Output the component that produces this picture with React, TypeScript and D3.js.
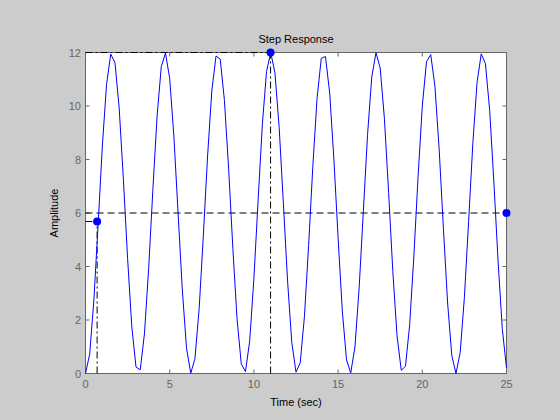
import React from "react";
import * as d3 from "d3";

const times: number[] = Array.from({ length: 101 }, (_, i) => i * 0.25);
const amplitude: number[] = [
  0, 0.73, 2.76, 5.58, 8.5, 10.81, 11.94, 11.62, 9.92, 7.26,
  4.3, 1.75, 0.24, 0.14, 1.48, 3.92, 6.87, 9.61, 11.47, 11.98,
  11.03, 8.85, 5.97, 3.12, 0.94, 0.01, 0.56, 2.43, 5.18, 8.13,
  10.56, 11.87, 11.75, 10.21, 7.65, 4.68, 2.04, 0.36, 0.07, 1.22,
  3.55, 6.48, 9.29, 11.29, 12.0, 11.24, 9.2, 6.37, 3.45, 1.16,
  0.05, 0.4, 2.12, 4.79, 7.75, 10.28, 11.78, 11.85, 10.49, 8.02,
  5.07, 2.34, 0.51, 0.02, 0.99, 3.2, 6.08, 8.94, 11.09, 11.99,
  11.42, 9.53, 6.77, 3.81, 1.41, 0.12, 0.27, 1.82, 4.4, 7.37,
  10.0, 11.66, 11.92, 10.74, 8.4, 5.47, 2.67, 0.68, 0.0, 0.79,
  2.85, 5.68, 8.59, 10.87, 11.95, 11.58, 9.84, 7.16, 4.2, 1.67,
  0.21,
];
const xTicks: number[] = [0, 5, 10, 15, 20, 25];
const yTicks: number[] = [0, 2, 4, 6, 8, 10, 12];

// Characteristic points
const riseTime = 0.69;
const riseValue = 5.68;
const peakTime = 10.99;
const peakValue = 12;
const steadyValue = 6;
const finalTime = 25;

export default function App() {
  const x = d3.scaleLinear().domain([0, 25]).range([85.5, 506.5]);
  const y = d3.scaleLinear().domain([0, 12]).range([373.5, 52.5]);
  const line = d3
    .line<number>()
    .x((_, i) => x(times[i]))
    .y((d) => y(d));
  const axisColor = "#666666";
  const font = "'Liberation Sans', Arial, Helvetica, sans-serif";
  const tickLen = 4;
  return (
    <svg
      width={560}
      height={420}
      style={{ position: "absolute", left: 0, top: 0, display: "block" }}
      fontFamily={font}
    >
      <rect x={0} y={0} width={560} height={420} fill="#cccccc" />
      <rect x={x(0)} y={y(12)} width={x(25) - x(0)} height={y(0) - y(12)} fill="#ffffff" />
      {/* box */}
      <rect x={x(0)} y={y(12)} width={x(25) - x(0)} height={y(0) - y(12)} fill="none" stroke={axisColor} strokeWidth={1} />
      {xTicks.map((t) => (
        <g key={"x" + t}>
          <line x1={x(t)} x2={x(t)} y1={y(0)} y2={y(0) - tickLen} stroke={axisColor} />
          <line x1={x(t)} x2={x(t)} y1={y(12)} y2={y(12) + tickLen} stroke={axisColor} />
          <text x={x(t)} y={388} textAnchor="middle" fontSize={11} fill={axisColor}>
            {t}
          </text>
        </g>
      ))}
      {yTicks.map((t) => (
        <g key={"y" + t}>
          <line x1={x(0)} x2={x(0) + tickLen} y1={y(t)} y2={y(t)} stroke={axisColor} />
          <line x1={x(25)} x2={x(25) - tickLen} y1={y(t)} y2={y(t)} stroke={axisColor} />
          <text x={81} y={y(t) + 4} textAnchor="end" fontSize={11} fill={axisColor}>
            {t}
          </text>
        </g>
      ))}
      {/* characteristic lines */}
      <line x1={x(0)} x2={x(finalTime)} y1={y(steadyValue)} y2={y(steadyValue)} stroke="#000" strokeDasharray="7,4" strokeWidth={1} />
      <line x1={x(0)} x2={x(peakTime)} y1={y(peakValue)} y2={y(peakValue)} stroke="#000" strokeDasharray="7,3,2,3" strokeWidth={1} />
      <line x1={x(peakTime)} x2={x(peakTime)} y1={y(0)} y2={y(peakValue)} stroke="#000" strokeDasharray="7,3,2,3" strokeWidth={1} />
      <line x1={x(0)} x2={x(riseTime)} y1={y(riseValue)} y2={y(riseValue)} stroke="#000" strokeDasharray="7,3,2,3" strokeWidth={1} />
      <line x1={x(riseTime)} x2={x(riseTime)} y1={y(0)} y2={y(riseValue)} stroke="#000" strokeDasharray="7,3,2,3" strokeWidth={1} />
      {/* response */}
      <path d={line(amplitude) || ""} fill="none" stroke="#0000ff" strokeWidth={1} />
      {/* markers */}
      <circle cx={x(riseTime)} cy={y(riseValue)} r={4} fill="#0000ff" />
      <circle cx={x(peakTime)} cy={y(peakValue)} r={4} fill="#0000ff" />
      <circle cx={x(finalTime)} cy={y(steadyValue)} r={4} fill="#0000ff" />
      {/* labels */}
      <text x={(x(0) + x(25)) / 2} y={43} textAnchor="middle" fontSize={11} fill="#000">
        Step Response
      </text>
      <text x={(x(0) + x(25)) / 2} y={406} textAnchor="middle" fontSize={11} fill="#000">
        Time (sec)
      </text>
      <text
        transform={`translate(58, ${(y(0) + y(12)) / 2}) rotate(-90)`}
        textAnchor="middle"
        fontSize={11}
        fill="#000"
      >
        Amplitude
      </text>
    </svg>
  );
}
